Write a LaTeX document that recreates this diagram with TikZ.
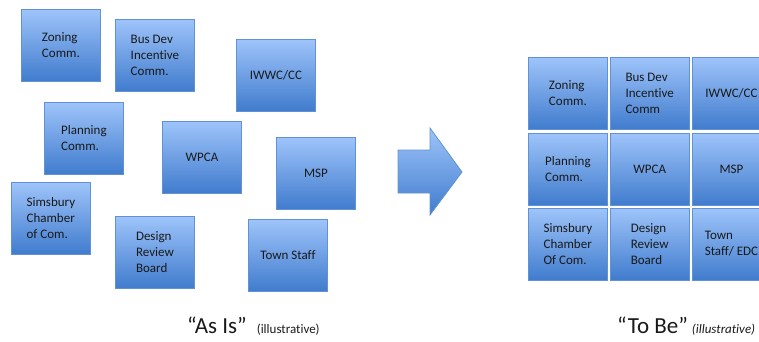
\documentclass[tikz,border=0pt]{standalone}
\usepackage{fontspec}
\setmainfont{Carlito}[Ligatures={TeX,NoCommon}]
\usetikzlibrary{positioning}
\definecolor{boxtop}{RGB}{158,196,250}
\definecolor{boxmid}{RGB}{118,163,232}
\definecolor{boxbot}{RGB}{64,124,205}
\definecolor{boxline}{RGB}{98,146,214}
\definecolor{ink}{RGB}{25,25,25}

\begin{document}
\begin{tikzpicture}[x=1pt, y=-1pt, node distance=3pt and 2pt,
  unit/.style={draw=boxline, line width=0.8pt, top color=boxtop, middle color=boxmid,
    bottom color=boxbot, minimum width=79pt, minimum height=72pt, inner sep=0pt,
    align=left, text=ink, font=\fontsize{13}{16}\selectfont}]
  \useasboundingbox (0,0) rectangle (759,341);

  % As is: committees scattered about
  \node[unit, anchor=north west] (zon) at (21,9) {Zoning\\Comm.};
  \node[unit, anchor=north west] (bus) at (115,19) {Bus Dev\\Incentive\\Comm.};
  \node[unit, anchor=north west] (iwwc) at (236,39) {IWWC/CC};
  \node[unit, anchor=north west] (plan) at (44,102) {Planning\\Comm.};
  \node[unit, anchor=north west] (wpca) at (162,121) {WPCA};
  \node[unit, anchor=north west] (msp) at (276,137) {MSP};
  \node[unit, anchor=north west] (cham) at (11,182) {Simsbury\\Chamber\\of Com.};
  \node[unit, anchor=north west] (drb) at (115,216) {Design\\Review\\Board};
  \node[unit, anchor=north west] (staff) at (248,219) {Town Staff};

  % Block arrow
  \path[draw=boxline, line width=0.8pt, top color=boxtop, middle color=boxmid, bottom color=boxbot]
    (398,150) -- (430,150) -- (430,128) -- (462,172) -- (430,215) -- (430,193) -- (398,193) -- cycle;

  % To be: same committees in a grid
  % Row 1
  \node[unit, anchor=north west] (zon2) at (528,57) {Zoning\\Comm.};
  \node[unit, right=of zon2] (bus2) {Bus Dev\\Incentive\\Comm};
  \node[unit, right=of bus2] (iwwc2) {IWWC/CC};
  % Row 2
  \node[unit, below=of zon2] (plan2) {Planning\\Comm.};
  \node[unit, below=of bus2] (wpca2) {WPCA};
  \node[unit, below=of iwwc2] (msp2) {MSP};
  % Row 3
  \node[unit, below=2pt of plan2] (cham2) {Simsbury\\Chamber\\Of Com.};
  \node[unit, below=2pt of wpca2] (drb2) {Design\\Review\\Board};
  \node[unit, below=2pt of msp2] (staff2) {Town\\Staff/ EDC};

  % Captions
  \node[anchor=base west, inner sep=0pt, text=ink] (asis) at (187,333)
    {{\fontsize{23}{26}\selectfont “As Is”}\hspace{10pt}{\fontsize{13}{15}\selectfont (illustrative)}};
  \node[anchor=base west, inner sep=0pt, text=ink] (tobe) at (617,333)
    {{\fontsize{23}{26}\selectfont “To Be”}\hspace{4pt}{\fontsize{13}{15}\selectfont\itshape (illustrative)}};
\end{tikzpicture}
\end{document}
